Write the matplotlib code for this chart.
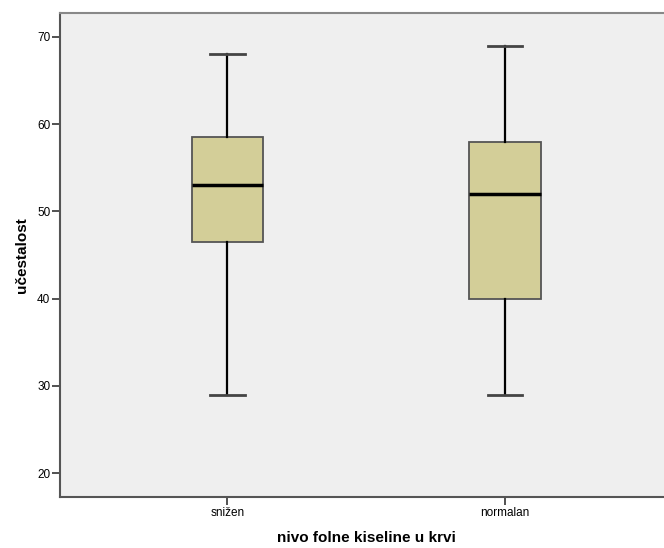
import matplotlib
matplotlib.use("Agg")
import matplotlib.pyplot as plt

plt.rcParams['font.family'] = ['Liberation Sans', 'DejaVu Sans']

# box summaries per group
groups = ["snižen", "normalan"]
whislo = [29, 29]
q1 = [46.5, 40]
med = [53, 52]
q3 = [58.5, 58]
whishi = [68, 69]

stats = [
    dict(label=g, whislo=lo, q1=a, med=m, q3=b, whishi=hi, fliers=[])
    for g, lo, a, m, b, hi in zip(groups, whislo, q1, med, q3, whishi)
]

W, H = 664, 548
fig = plt.figure(figsize=(W / 100, H / 100), dpi=100)
ax = fig.add_axes([60 / W, 51 / H, 612.5 / W, 484 / H])
ax.set_facecolor("#efefef")

ax.bxp(
    stats, positions=[1, 2], widths=0.256, patch_artist=True,
    boxprops=dict(facecolor="#d3ce98", edgecolor="#555555", linewidth=1.3),
    medianprops=dict(color="black", linewidth=2.5),
    whiskerprops=dict(color="black", linewidth=1.6),
    capprops=dict(color="#444444", linewidth=2.0),
    capwidths=0.126,
)

ax.set_xlim(0.3964, 2.6036)
ax.set_ylim(17.25, 72.75)
ax.set_yticks([20, 30, 40, 50, 60, 70])
ax.set_xticks([1, 2])
ax.set_xticklabels(groups)
ax.tick_params(axis="both", labelsize=8.5, length=6, width=1.2, color="#333333", pad=1)

for side in ["left", "bottom"]:
    ax.spines[side].set_color("#555555")
    ax.spines[side].set_linewidth(1.5)
ax.spines["top"].set_color("#888888")
ax.spines["top"].set_linewidth(1.5)
ax.spines["right"].set_visible(False)

ax.set_ylabel("učestalost", fontsize=11, fontweight="bold", labelpad=6)
ax.set_xlabel("nivo folne kiseline u krvi", fontsize=11, fontweight="bold", labelpad=9)

fig.savefig("out.png", dpi=100)
